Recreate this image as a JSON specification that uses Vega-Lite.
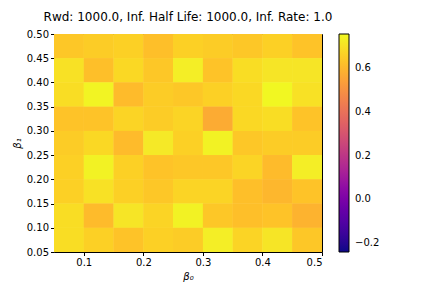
{
  "$schema": "https://vega.github.io/schema/vega-lite/v6.json",
  "width": 268,
  "height": 218,
  "autosize": {"type": "none"},
  "padding": {"left": 54, "top": 34, "right": 110, "bottom": 36},
  "background": "white",
  "title": {"text": "Rwd: 1000.0, Inf. Half Life: 1000.0, Inf. Rate: 1.0", "font": "DejaVu Sans", "fontSize": 12, "fontWeight": "normal", "color": "black", "offset": 5, "limit": 420},
  "config": {"view": {"stroke": "black", "strokeWidth": 1}},
  "data": {"values": [
    {"x": 0.05, "x2": 0.10, "y": 0.45, "y2": 0.50, "v": 0.64},
    {"x": 0.10, "x2": 0.15, "y": 0.45, "y2": 0.50, "v": 0.65},
    {"x": 0.15, "x2": 0.20, "y": 0.45, "y2": 0.50, "v": 0.66},
    {"x": 0.20, "x2": 0.25, "y": 0.45, "y2": 0.50, "v": 0.62},
    {"x": 0.25, "x2": 0.30, "y": 0.45, "y2": 0.50, "v": 0.66},
    {"x": 0.30, "x2": 0.35, "y": 0.45, "y2": 0.50, "v": 0.65},
    {"x": 0.35, "x2": 0.40, "y": 0.45, "y2": 0.50, "v": 0.64},
    {"x": 0.40, "x2": 0.45, "y": 0.45, "y2": 0.50, "v": 0.66},
    {"x": 0.45, "x2": 0.50, "y": 0.45, "y2": 0.50, "v": 0.63},

    {"x": 0.05, "x2": 0.10, "y": 0.40, "y2": 0.45, "v": 0.70},
    {"x": 0.10, "x2": 0.15, "y": 0.40, "y2": 0.45, "v": 0.62},
    {"x": 0.15, "x2": 0.20, "y": 0.40, "y2": 0.45, "v": 0.68},
    {"x": 0.20, "x2": 0.25, "y": 0.40, "y2": 0.45, "v": 0.64},
    {"x": 0.25, "x2": 0.30, "y": 0.40, "y2": 0.45, "v": 0.73},
    {"x": 0.30, "x2": 0.35, "y": 0.40, "y2": 0.45, "v": 0.63},
    {"x": 0.35, "x2": 0.40, "y": 0.40, "y2": 0.45, "v": 0.69},
    {"x": 0.40, "x2": 0.45, "y": 0.40, "y2": 0.45, "v": 0.71},
    {"x": 0.45, "x2": 0.50, "y": 0.40, "y2": 0.45, "v": 0.71},

    {"x": 0.05, "x2": 0.10, "y": 0.35, "y2": 0.40, "v": 0.69},
    {"x": 0.10, "x2": 0.15, "y": 0.35, "y2": 0.40, "v": 0.745},
    {"x": 0.15, "x2": 0.20, "y": 0.35, "y2": 0.40, "v": 0.61},
    {"x": 0.20, "x2": 0.25, "y": 0.35, "y2": 0.40, "v": 0.65},
    {"x": 0.25, "x2": 0.30, "y": 0.35, "y2": 0.40, "v": 0.64},
    {"x": 0.30, "x2": 0.35, "y": 0.35, "y2": 0.40, "v": 0.66},
    {"x": 0.35, "x2": 0.40, "y": 0.35, "y2": 0.40, "v": 0.68},
    {"x": 0.40, "x2": 0.45, "y": 0.35, "y2": 0.40, "v": 0.75},
    {"x": 0.45, "x2": 0.50, "y": 0.35, "y2": 0.40, "v": 0.70},

    {"x": 0.05, "x2": 0.10, "y": 0.30, "y2": 0.35, "v": 0.63},
    {"x": 0.10, "x2": 0.15, "y": 0.30, "y2": 0.35, "v": 0.63},
    {"x": 0.15, "x2": 0.20, "y": 0.30, "y2": 0.35, "v": 0.67},
    {"x": 0.20, "x2": 0.25, "y": 0.30, "y2": 0.35, "v": 0.65},
    {"x": 0.25, "x2": 0.30, "y": 0.30, "y2": 0.35, "v": 0.67},
    {"x": 0.30, "x2": 0.35, "y": 0.30, "y2": 0.35, "v": 0.57},
    {"x": 0.35, "x2": 0.40, "y": 0.30, "y2": 0.35, "v": 0.68},
    {"x": 0.40, "x2": 0.45, "y": 0.30, "y2": 0.35, "v": 0.69},
    {"x": 0.45, "x2": 0.50, "y": 0.30, "y2": 0.35, "v": 0.63},

    {"x": 0.05, "x2": 0.10, "y": 0.25, "y2": 0.30, "v": 0.65},
    {"x": 0.10, "x2": 0.15, "y": 0.25, "y2": 0.30, "v": 0.68},
    {"x": 0.15, "x2": 0.20, "y": 0.25, "y2": 0.30, "v": 0.61},
    {"x": 0.20, "x2": 0.25, "y": 0.25, "y2": 0.30, "v": 0.72},
    {"x": 0.25, "x2": 0.30, "y": 0.25, "y2": 0.30, "v": 0.66},
    {"x": 0.30, "x2": 0.35, "y": 0.25, "y2": 0.30, "v": 0.74},
    {"x": 0.35, "x2": 0.40, "y": 0.25, "y2": 0.30, "v": 0.64},
    {"x": 0.40, "x2": 0.45, "y": 0.25, "y2": 0.30, "v": 0.65},
    {"x": 0.45, "x2": 0.50, "y": 0.25, "y2": 0.30, "v": 0.65},

    {"x": 0.05, "x2": 0.10, "y": 0.20, "y2": 0.25, "v": 0.66},
    {"x": 0.10, "x2": 0.15, "y": 0.20, "y2": 0.25, "v": 0.74},
    {"x": 0.15, "x2": 0.20, "y": 0.20, "y2": 0.25, "v": 0.66},
    {"x": 0.20, "x2": 0.25, "y": 0.20, "y2": 0.25, "v": 0.63},
    {"x": 0.25, "x2": 0.30, "y": 0.20, "y2": 0.25, "v": 0.64},
    {"x": 0.30, "x2": 0.35, "y": 0.20, "y2": 0.25, "v": 0.64},
    {"x": 0.35, "x2": 0.40, "y": 0.20, "y2": 0.25, "v": 0.67},
    {"x": 0.40, "x2": 0.45, "y": 0.20, "y2": 0.25, "v": 0.61},
    {"x": 0.45, "x2": 0.50, "y": 0.20, "y2": 0.25, "v": 0.73},

    {"x": 0.05, "x2": 0.10, "y": 0.15, "y2": 0.20, "v": 0.66},
    {"x": 0.10, "x2": 0.15, "y": 0.15, "y2": 0.20, "v": 0.70},
    {"x": 0.15, "x2": 0.20, "y": 0.15, "y2": 0.20, "v": 0.66},
    {"x": 0.20, "x2": 0.25, "y": 0.15, "y2": 0.20, "v": 0.64},
    {"x": 0.25, "x2": 0.30, "y": 0.15, "y2": 0.20, "v": 0.67},
    {"x": 0.30, "x2": 0.35, "y": 0.15, "y2": 0.20, "v": 0.67},
    {"x": 0.35, "x2": 0.40, "y": 0.15, "y2": 0.20, "v": 0.62},
    {"x": 0.40, "x2": 0.45, "y": 0.15, "y2": 0.20, "v": 0.60},
    {"x": 0.45, "x2": 0.50, "y": 0.15, "y2": 0.20, "v": 0.63},

    {"x": 0.05, "x2": 0.10, "y": 0.10, "y2": 0.15, "v": 0.69},
    {"x": 0.10, "x2": 0.15, "y": 0.10, "y2": 0.15, "v": 0.61},
    {"x": 0.15, "x2": 0.20, "y": 0.10, "y2": 0.15, "v": 0.71},
    {"x": 0.20, "x2": 0.25, "y": 0.10, "y2": 0.15, "v": 0.67},
    {"x": 0.25, "x2": 0.30, "y": 0.10, "y2": 0.15, "v": 0.74},
    {"x": 0.30, "x2": 0.35, "y": 0.10, "y2": 0.15, "v": 0.64},
    {"x": 0.35, "x2": 0.40, "y": 0.10, "y2": 0.15, "v": 0.62},
    {"x": 0.40, "x2": 0.45, "y": 0.10, "y2": 0.15, "v": 0.63},
    {"x": 0.45, "x2": 0.50, "y": 0.10, "y2": 0.15, "v": 0.59},

    {"x": 0.05, "x2": 0.10, "y": 0.05, "y2": 0.10, "v": 0.69},
    {"x": 0.10, "x2": 0.15, "y": 0.05, "y2": 0.10, "v": 0.66},
    {"x": 0.15, "x2": 0.20, "y": 0.05, "y2": 0.10, "v": 0.63},
    {"x": 0.20, "x2": 0.25, "y": 0.05, "y2": 0.10, "v": 0.66},
    {"x": 0.25, "x2": 0.30, "y": 0.05, "y2": 0.10, "v": 0.65},
    {"x": 0.30, "x2": 0.35, "y": 0.05, "y2": 0.10, "v": 0.73},
    {"x": 0.35, "x2": 0.40, "y": 0.05, "y2": 0.10, "v": 0.67},
    {"x": 0.40, "x2": 0.45, "y": 0.05, "y2": 0.10, "v": 0.71},
    {"x": 0.45, "x2": 0.50, "y": 0.05, "y2": 0.10, "v": 0.64}
  ]},
  "encoding": {
    "x": {"field": "x", "type": "quantitative", "scale": {"domain": [0.05, 0.5], "nice": false, "zero": false},
      "axis": {"values": [0.1, 0.2, 0.3, 0.4, 0.5], "format": ".1f", "title": "β₀", "titleFontStyle": "italic", "titleFont": "DejaVu Sans", "titleFontSize": 10, "titleFontWeight": "normal", "titleColor": "black", "titlePadding": 4,
        "labelFont": "DejaVu Sans", "labelFontSize": 10, "labelColor": "black", "tickColor": "black", "tickSize": 3.5, "domain": false, "grid": false, "labelPadding": 2}},
    "x2": {"field": "x2"},
    "y": {"field": "y", "type": "quantitative", "scale": {"domain": [0.05, 0.5], "nice": false, "zero": false},
      "axis": {"values": [0.05, 0.1, 0.15, 0.2, 0.25, 0.3, 0.35, 0.4, 0.45, 0.5], "format": ".2f", "title": "β₁", "titleFontStyle": "italic", "titleFont": "DejaVu Sans", "titleFontSize": 10, "titleFontWeight": "normal", "titleColor": "black", "titlePadding": 4,
        "labelFont": "DejaVu Sans", "labelFontSize": 10, "labelColor": "black", "tickColor": "black", "tickSize": 3.5, "domain": false, "grid": false, "labelPadding": 2}},
    "y2": {"field": "y2"},
    "color": {"field": "v", "type": "quantitative", "scale": {"scheme": "plasma", "domain": [-0.24, 0.755], "nice": false, "zero": false},
      "legend": {"type": "gradient", "title": null, "direction": "vertical", "gradientLength": 218, "gradientThickness": 10, "gradientStrokeColor": "black", "gradientStrokeWidth": 1, "offset": 17, "padding": 0,
        "values": [-0.2, 0, 0.2, 0.4, 0.6], "format": ".1f", "labelFont": "DejaVu Sans", "labelFontSize": 10, "labelColor": "black", "labelOffset": 6}}
  },
  "layer": [
    {"mark": {"type": "rect", "strokeWidth": 0}},
    {"mark": {"type": "rect", "strokeWidth": 0}}
  ]
}
